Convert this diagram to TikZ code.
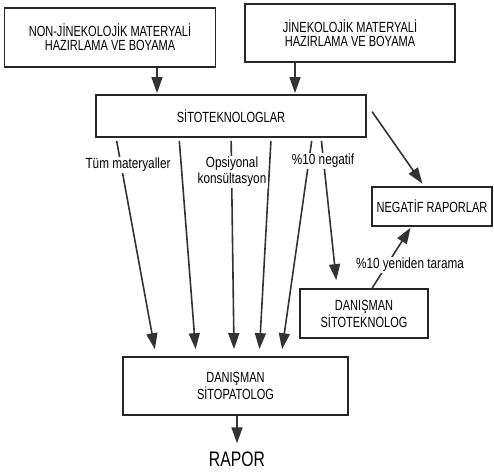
\documentclass[tikz,border=0pt]{standalone}
\usepackage{fontspec}
\setmainfont{Liberation Sans}[FakeStretch=0.75]
\newfontfamily\lblfont{Liberation Sans}[FakeStretch=0.8]
\usetikzlibrary{arrows.meta,calc}
\begin{document}
\begin{tikzpicture}[x=1pt,y=-1pt,
  box/.style={draw=black!85,line width=1.8pt,fill=white,align=center,inner sep=0pt,font=\fontsize{14.7}{14}\selectfont},
  arr/.style={draw=black!80,line width=1.6pt,-{Triangle[length=16pt,width=11pt]}},
  lbl/.style={fill=white,inner sep=1.5pt,align=center,font=\lblfont\fontsize{14.7}{16}\selectfont}]
\useasboundingbox (0,0) rectangle (494,471);
\node[box,minimum width=211pt,minimum height=59pt] (b1) at (110,37.5) {NON-JİNEKOLOJİK MATERYALİ\\HAZIRLAMA VE BOYAMA};
\node[box,minimum width=210pt,minimum height=58pt] (b2) at (350,33) {JİNEKOLOJİK MATERYALİ\\HAZIRLAMA VE BOYAMA};
\node[box,minimum width=270pt,minimum height=42pt] (sito) at (231,116) {SİTOTEKNOLOGLAR};
\node[box,minimum width=120pt,minimum height=39pt] (neg) at (432,206.5) {NEGATİF RAPORLAR};
\node[box,minimum width=128pt,minimum height=49pt] (dt) at (364,313.5) {DANIŞMAN\\SİTOTEKNOLOG};
\node[box,minimum width=225pt,minimum height=58pt] (pat) at (235.5,386) {DANIŞMAN\\SİTOPATOLOG};
\node[inner sep=0pt,font=\fontsize{21}{22}\selectfont] (rapor) at (237,459) {RAPOR};

\draw[arr,shorten >=1pt] ([xshift=47pt]b1.south) -- ([xshift=-74pt]sito.north);
\draw[arr,shorten >=1pt] ([xshift=-55pt]b2.south) -- ([xshift=64pt]sito.north);

\draw[arr,shorten <=3pt,shorten >=7pt] ([xshift=21pt]sito.south west) -- ([xshift=34pt]pat.north west);
\draw[arr,shorten <=3pt,shorten >=7pt] ([xshift=84pt]sito.south west) -- ([xshift=74pt]pat.north west);
\draw[arr,shorten <=3pt,shorten >=7pt] ([xshift=136pt]sito.south west) -- ([xshift=112pt]pat.north west);
\draw[arr,shorten <=3pt,shorten >=7pt] ([xshift=176pt]sito.south west) -- ([xshift=137pt]pat.north west);
\draw[arr,shorten <=3pt,shorten >=7pt] ([xshift=217pt]sito.south west) -- ([xshift=159pt]pat.north west);
\draw[arr,shorten <=3pt,shorten >=8pt] ([xshift=226pt]sito.south west) -- ([xshift=38pt]dt.north west);

\draw[arr,shorten <=2pt,shorten >=3pt] ([xshift=4pt,yshift=6pt]sito.east) -- ([xshift=53pt]neg.north west);
\draw[arr,shorten >=1pt] ([xshift=73pt]dt.north west) -- ([xshift=40pt]neg.south west);
\draw[arr,shorten >=8pt] ([xshift=1.5pt]pat.south) -- (rapor.north);

\node[lbl] (l1) at (128,165) {Tüm materyaller};
\node[lbl] (l2) at (232,172) {Opsiyonal\\konsültasyon};
\node[lbl] (l3) at (323,161) {\%10 negatif};
\node[lbl] (l4) at (410,265) {\%10 yeniden tarama};
\end{tikzpicture}
\end{document}
